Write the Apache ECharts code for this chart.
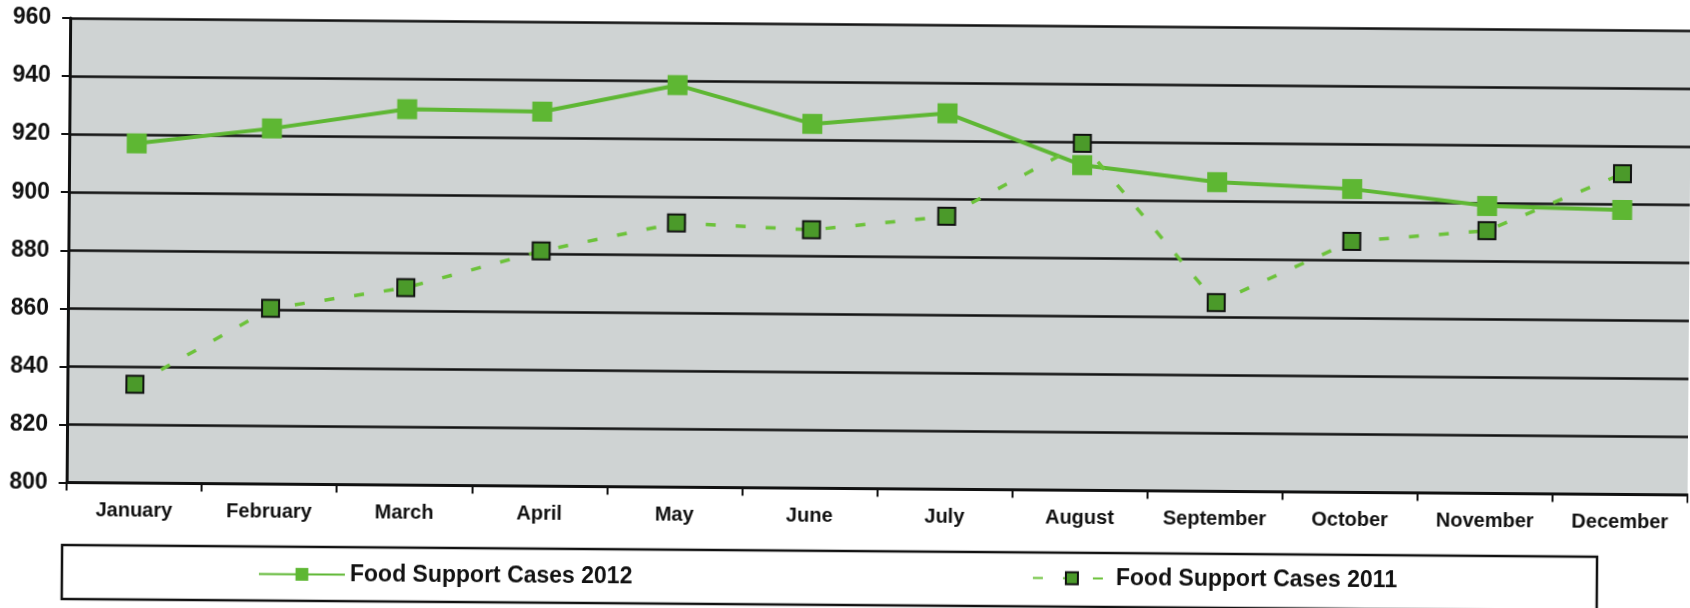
<!DOCTYPE html>
<html>
<head>
<meta charset="utf-8">
<script src="https://cdn.jsdelivr.net/npm/echarts@6/dist/echarts.min.js"></script>
<style>
  html, body { margin: 0; padding: 0; background: #ffffff; overflow: hidden; }
  #chart { width: 1690px; height: 608px; transform: rotate(0.44deg); transform-origin: 845px 304px; }
</style>
</head>
<body>
<div id="chart"></div>
<script>
const months = ['January', 'February', 'March', 'April', 'May', 'June', 'July', 'August', 'September', 'October', 'November', 'December'];
const cases2012 = [917, 922.5, 929.5, 929, 938.5, 925.5, 929.5, 912, 906.5, 904.5, 899, 898];
const cases2011 = [834, 860.5, 868, 881, 891, 889, 894, 919.5, 865, 886.5, 890.5, 910.5];
const name2012 = 'Food Support Cases 2012';
const name2011 = 'Food Support Cases 2011';
const yMin = 800, yMax = 960, yStep = 20;

const FONT = '"Liberation Sans", Arial, sans-serif';
const chart = echarts.init(document.getElementById('chart'), null, { renderer: 'canvas' });

chart.setOption({
  animation: false,
  backgroundColor: '#ffffff',
  grid: {
    left: 68, top: 24, right: 1, bottom: 119.5,
    show: true, backgroundColor: '#cfd3d3', borderWidth: 0
  },
  xAxis: {
    type: 'category',
    data: months,
    boundaryGap: true,
    axisLine: { show: true, lineStyle: { color: '#111', width: 3 } },
    axisTick: { show: true, interval: 0, length: 8, lineStyle: { color: '#111', width: 2 } },
    axisLabel: { interval: 0, margin: 18, color: '#111', fontFamily: FONT, fontWeight: 'bold', fontSize: 20 },
    splitLine: { show: false }
  },
  yAxis: {
    type: 'value',
    min: yMin, max: yMax, interval: yStep,
    axisLine: { show: true, lineStyle: { color: '#111', width: 3 } },
    axisTick: { show: true, length: 8, lineStyle: { color: '#111', width: 2 } },
    axisLabel: { margin: 19, color: '#111', fontFamily: FONT, fontWeight: 'bold', fontSize: 23 },
    splitLine: { show: true, lineStyle: { color: '#111', width: 2.5 } }
  },
  graphic: [{
    type: 'rect',
    z: 1,
    shape: { x: 64, y: 551, width: 1535, height: 54 },
    style: { fill: '#ffffff', stroke: '#111', lineWidth: 2.5 }
  }],
  legend: [
    {
      data: [name2012],
      left: 255, top: 562,
      itemWidth: 86, itemHeight: 16,
      textStyle: { color: '#111', fontFamily: FONT, fontWeight: 'bold', fontSize: 23 },
      z: 5
    },
    {
      data: [name2011],
      left: 1029, top: 560,
      itemWidth: 78, itemHeight: 15,
      textStyle: { color: '#111', fontFamily: FONT, fontWeight: 'bold', fontSize: 23 },
      z: 5
    }
  ],
  series: [
    {
      name: name2012,
      type: 'line',
      data: cases2012,
      symbol: 'rect',
      symbolSize: 20,
      itemStyle: { color: '#5eb733' },
      lineStyle: { color: '#5eb733', width: 4 },
      z: 3
    },
    {
      name: name2011,
      type: 'line',
      data: cases2011,
      symbol: 'rect',
      symbolSize: 17,
      itemStyle: { color: '#4b9a2a', borderColor: '#111', borderWidth: 2 },
      lineStyle: { color: '#6cc23a', width: 3.5, type: [10, 20] },
      z: 4
    }
  ]
});
</script>
</body>
</html>
